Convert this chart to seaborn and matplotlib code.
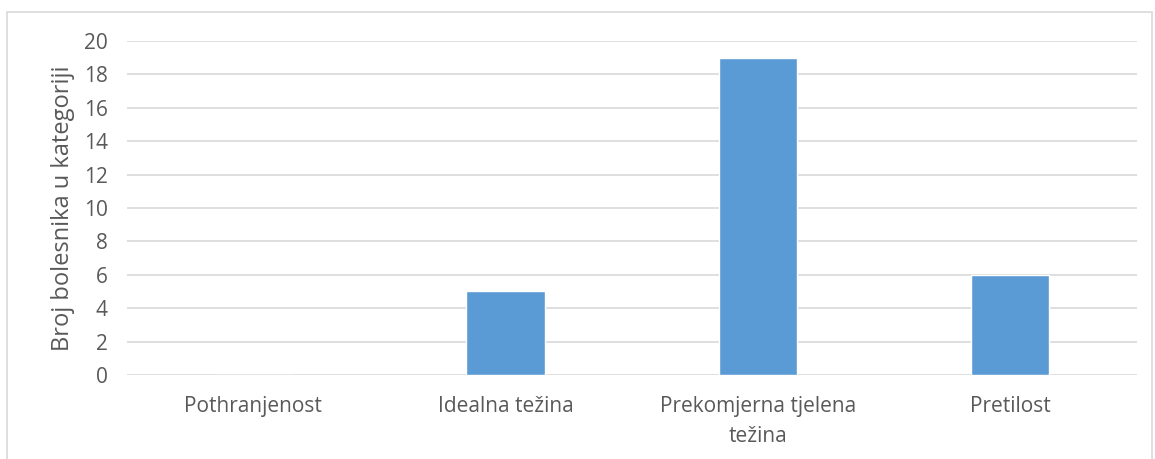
import pandas as pd
from matplotlib import pyplot as plt
from matplotlib.patches import Rectangle
import seaborn as sns

categories = ["Pothranjenost", "Idealna težina", "Prekomjerna tjelena\ntežina", "Pretilost"]
counts = [0, 5, 19, 6]

df = pd.DataFrame({"kategorija": categories, "broj": counts})

sns.set_style("white")
plt.rcParams["font.family"] = ["Open Sans", "DejaVu Sans"]

fig = plt.figure(figsize=(11.55, 4.59), dpi=100)
ax = fig.add_axes([0.110, 0.183, 0.874, 0.728])

sns.barplot(x="kategorija", y="broj", data=df, color="#5B9BD5", width=0.31,
            saturation=1, ax=ax, zorder=3)

ax.set_ylim(0, 20)
ax.set_yticks(range(0, 21, 2))
ax.grid(axis="y", color="#D9D9D9", linewidth=1.2, zorder=0)
ax.set_axisbelow(True)
for s in ax.spines.values():
    s.set_visible(False)
ax.tick_params(axis="both", length=0, labelsize=15, colors="#595959")
ax.tick_params(axis="y", pad=14)
ax.tick_params(axis="x", pad=15)
ax.set_xlabel("")
ax.set_ylabel("Broj bolesnika u kategoriji", fontsize=17, color="#595959", labelpad=6)
for t in ax.get_xticklabels():
    t.set_linespacing(1.55)

fig.patches.append(Rectangle((7 / 1155, -0.05), 1145 / 1155, 1 - 12 / 459 + 0.05,
                             transform=fig.transFigure, fill=False,
                             edgecolor="#D9D9D9", linewidth=1.2))

plt.savefig("out.png", dpi=100)
